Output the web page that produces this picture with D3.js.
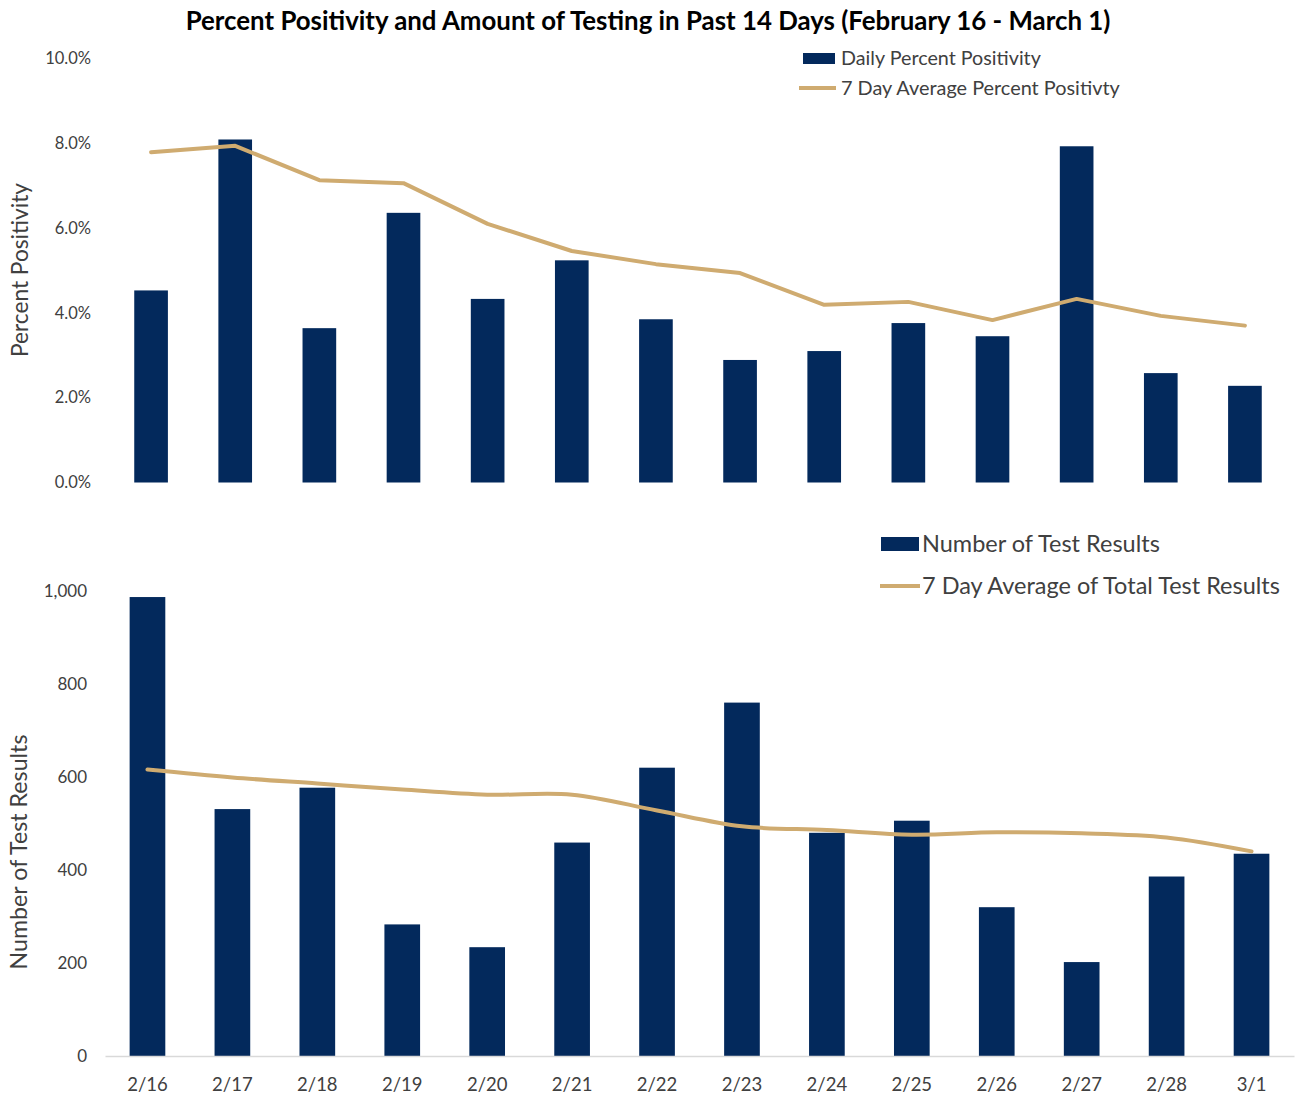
<!DOCTYPE html>
<html>
<head>
<meta charset="utf-8">
<script src="https://cdn.jsdelivr.net/npm/d3@7"></script>
<style>
  body { margin: 0; background: #fff; }
  text { font-family: Lato, "Open Sans", sans-serif; }
</style>
</head>
<body>
<div class="chart"></div>
<script>
// ---- data ----
var days = ["2/16", "2/17", "2/18", "2/19", "2/20", "2/21", "2/22",
            "2/23", "2/24", "2/25", "2/26", "2/27", "2/28", "3/1"];

// daily percent positivity (fraction)
var dailyPositivity = [0.0453, 0.0809, 0.0364, 0.0636, 0.0433, 0.0524, 0.0385,
                       0.0289, 0.0310, 0.0376, 0.0345, 0.0793, 0.0258, 0.0228];

// 7 day average percent positivity (fraction)
var avgPositivity = [0.0779, 0.0794, 0.0713, 0.0706, 0.0610, 0.0546, 0.0515,
                     0.0494, 0.0419, 0.0426, 0.0383, 0.0433, 0.0393, 0.0370];

// number of test results
var testResults = [987, 531, 577, 283, 234, 459, 620, 760, 480, 506, 320, 202, 386, 435];

// 7 day average of total test results
var avgTests = [616, 599, 586, 573, 562, 562, 528, 494, 486, 476, 481, 479, 470, 440];

var pctTicks = [0, 0.02, 0.04, 0.06, 0.08, 0.10];
var countTicks = [0, 200, 400, 600, 800, 1000];

var navy = "#03295c";
var gold = "#cfab70";
var textGray = "#404040";

var svg = d3.select(".chart").append("svg")
    .attr("width", 1296)
    .attr("height", 1097)
    .style("display", "block");

svg.append("rect").attr("width", 1296).attr("height", 1097).attr("fill", "#fff");

// shrink/grow a text so it covers the width it has in the picture
function fit(sel, width) {
    var w = sel.node().getComputedTextLength();
    var fs = parseFloat(sel.attr("font-size"));
    sel.attr("font-size", fs * width / w);
    return sel;
}

// ---- title ----
fit(svg.append("text")
    .attr("x", 648).attr("y", 30)
    .attr("text-anchor", "middle")
    .attr("font-size", 22)
    .attr("font-weight", "bold")
    .attr("fill", "#000")
    .text("Percent Positivity and Amount of Testing in Past 14 Days (February 16 - March 1)"), 925);

/* ---------- top panel: percent positivity ---------- */
var xTop = d3.scaleBand()
    .domain(days)
    .range([109, 1287])
    .paddingInner(0.6)
    .paddingOuter(0.3);

var yTop = d3.scaleLinear()
    .domain([0, 0.10])
    .range([482.5, 58.5]);

var topAxis = svg.append("g")
    .attr("transform", "translate(91,0)")
    .call(d3.axisLeft(yTop).tickValues(pctTicks).tickFormat(d3.format(".1%")).tickSize(0).tickPadding(0));
topAxis.select(".domain").remove();
topAxis.selectAll("text").attr("font-size", 16.5).attr("fill", textGray)
    .style("font-family", "Lato, 'Open Sans', sans-serif");

svg.append("g").selectAll("rect")
    .data(dailyPositivity)
    .enter().append("rect")
    .attr("x", (d, i) => xTop(days[i]))
    .attr("width", xTop.bandwidth())
    .attr("y", d => yTop(d))
    .attr("height", d => yTop(0) - yTop(d))
    .attr("fill", navy);

var topLine = d3.line()
    .x((d, i) => xTop(days[i]) + xTop.bandwidth() / 2)
    .y(d => yTop(d));

svg.append("path")
    .datum(avgPositivity)
    .attr("d", topLine)
    .attr("fill", "none")
    .attr("stroke", gold)
    .attr("stroke-width", 4)
    .attr("stroke-linecap", "round")
    .attr("stroke-linejoin", "round");

fit(svg.append("text")
    .attr("transform", "translate(28,270) rotate(-90)")
    .attr("text-anchor", "middle")
    .attr("font-size", 20)
    .attr("fill", textGray)
    .text("Percent Positivity"), 174);

// top legend
svg.append("rect").attr("x", 803).attr("y", 53).attr("width", 32).attr("height", 11).attr("fill", navy);
fit(svg.append("text").attr("x", 841).attr("y", 58).attr("dy", "0.35em")
    .attr("font-size", 17).attr("fill", textGray)
    .text("Daily Percent Positivity"), 200);
svg.append("line").attr("x1", 799).attr("x2", 836).attr("y1", 88).attr("y2", 88)
    .attr("stroke", gold).attr("stroke-width", 4);
fit(svg.append("text").attr("x", 841).attr("y", 88).attr("dy", "0.35em")
    .attr("font-size", 17).attr("fill", textGray)
    .text("7 Day Average Percent Positivty"), 279);

/* ---------- bottom panel: number of test results ---------- */
var xBot = d3.scaleBand()
    .domain(days)
    .range([105, 1294])
    .paddingInner(0.58)
    .paddingOuter(0.29);

var yBot = d3.scaleLinear()
    .domain([0, 1000])
    .range([1056, 591]);

var botYAxis = svg.append("g")
    .attr("transform", "translate(87,0)")
    .call(d3.axisLeft(yBot).tickValues(countTicks).tickFormat(d3.format(",")).tickSize(0).tickPadding(0));
botYAxis.select(".domain").remove();
botYAxis.selectAll("text").attr("font-size", 17).attr("fill", textGray)
    .style("font-family", "Lato, 'Open Sans', sans-serif");

svg.append("g").selectAll("rect")
    .data(testResults)
    .enter().append("rect")
    .attr("x", (d, i) => xBot(days[i]))
    .attr("width", xBot.bandwidth())
    .attr("y", d => yBot(d))
    .attr("height", d => yBot(0) - yBot(d))
    .attr("fill", navy);

var botXAxis = svg.append("g")
    .attr("transform", "translate(0,1056)")
    .call(d3.axisBottom(xBot).tickSize(0).tickSizeOuter(0).tickPadding(22));
botXAxis.select(".domain").attr("stroke", "#d9d9d9").attr("stroke-width", 1.5);
botXAxis.selectAll("text").attr("font-size", 18.5).attr("fill", textGray)
    .style("font-family", "Lato, 'Open Sans', sans-serif");

var botLine = d3.line()
    .x((d, i) => xBot(days[i]) + xBot.bandwidth() / 2)
    .y(d => yBot(d))
    .curve(d3.curveCatmullRom);

svg.append("path")
    .datum(avgTests)
    .attr("d", botLine)
    .attr("fill", "none")
    .attr("stroke", gold)
    .attr("stroke-width", 4)
    .attr("stroke-linecap", "round");

fit(svg.append("text")
    .attr("transform", "translate(27,852) rotate(-90)")
    .attr("text-anchor", "middle")
    .attr("font-size", 20)
    .attr("fill", textGray)
    .text("Number of Test Results"), 235);

// bottom legend
svg.append("rect").attr("x", 881).attr("y", 537).attr("width", 38).attr("height", 14).attr("fill", navy);
fit(svg.append("text").attr("x", 922).attr("y", 544).attr("dy", "0.35em")
    .attr("font-size", 21).attr("fill", textGray)
    .text("Number of Test Results"), 238);
svg.append("line").attr("x1", 880).attr("x2", 920).attr("y1", 586).attr("y2", 586)
    .attr("stroke", gold).attr("stroke-width", 4);
fit(svg.append("text").attr("x", 922).attr("y", 586).attr("dy", "0.35em")
    .attr("font-size", 21).attr("fill", textGray)
    .text("7 Day Average of Total Test Results"), 358);
</script>
</body>
</html>
